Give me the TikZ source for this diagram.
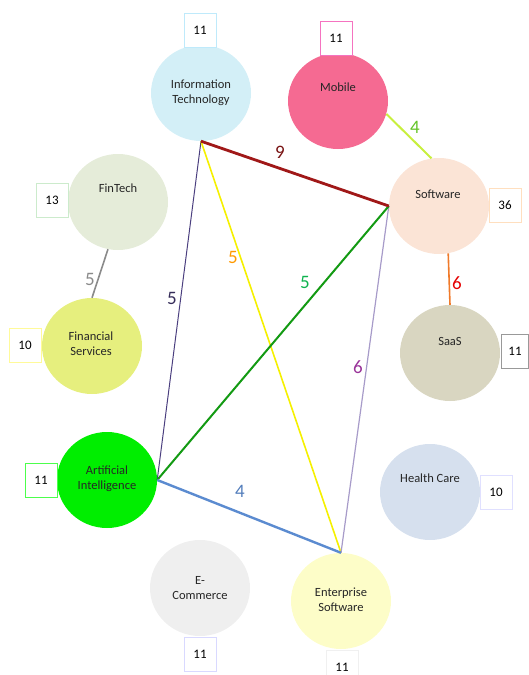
\documentclass[tikz,border=0pt]{standalone}
\usepackage{fontspec}
\setmainfont{Carlito}
\usetikzlibrary{shapes.geometric}
\definecolor{cIT}{HTML}{D3EFF7}
\definecolor{cMob}{HTML}{F56A92}
\definecolor{cSW}{HTML}{FBE4D6}
\definecolor{cSaaS}{HTML}{D9D6C1}
\definecolor{cFT}{HTML}{E5ECD9}
\definecolor{cFS}{HTML}{E6EF7E}
\definecolor{cAI}{HTML}{00EE00}
\definecolor{cEC}{HTML}{EFEFEF}
\definecolor{cES}{HTML}{FDFDC8}
\definecolor{cHC}{HTML}{D6E0EE}
\definecolor{eRed}{HTML}{A01818}
\definecolor{eNavy}{HTML}{4B3F7F}
\definecolor{eYel}{HTML}{F5F000}
\definecolor{eGreen}{HTML}{139A13}
\definecolor{eLav}{HTML}{A79BC9}
\definecolor{eBlue}{HTML}{5B8BD0}
\definecolor{eLime}{HTML}{C8EF3E}
\definecolor{eOr}{HTML}{F07A2A}
\definecolor{eGray}{HTML}{8A8A8A}
\tikzset{
  bubble/.style={ellipse, minimum width=100, minimum height=96, inner sep=0pt, draw=none},
  lbl/.style={font=\fontsize{12.5}{15}\selectfont, align=center, inner sep=0pt, text=black!85},
  numbox/.style={fill=white, minimum width=32, minimum height=34, inner sep=0pt, font=\fontsize{13}{14}\selectfont, line width=0.8pt},
  wt/.style={font=\fontsize{19}{19}\selectfont, inner sep=0pt},
}
\begin{document}
\begin{tikzpicture}[x=1pt,y=-1pt]
\useasboundingbox (0,0) rectangle (529,675);
% bubbles
\node[bubble, fill=cIT]   (it)   at (201,93)  {};
\node[bubble, fill=cMob]  (mob)  at (338,101) {};
\node[bubble, fill=cSW]   (sw)   at (439,206) {};
\node[bubble, fill=cSaaS] (saas) at (450,353) {};
\node[bubble, fill=cFT]   (ft)   at (118,202) {};
\node[bubble, fill=cFS]   (fs)   at (92,346)  {};
\node[bubble, fill=cAI]   (ai)   at (107,480) {};
\node[bubble, fill=cEC]   (ec)   at (200,588) {};
\node[bubble, fill=cES]   (es)   at (341,601) {};
\node[bubble, fill=cHC]   (hc)   at (430,492) {};
% texts
\node[lbl] (it-t)   at (201,93)  {Information\\Technology};
\node[lbl] (mob-t)  at (338,87)  {Mobile};
\node[lbl] (sw-t)   at (438,194) {Software};
\node[lbl] (saas-t) at (450,341) {SaaS};
\node[lbl] (ft-t)   at (118,188) {FinTech};
\node[lbl] (fs-t)   at (91,344)  {Financial\\Services};
\node[lbl] (ai-t)   at (107,479) {Artificial\\Intelligence};
\node[lbl] (ec-t)   at (200,588) {E-\\Commerce};
\node[lbl] (es-t)   at (341,600) {Enterprise\\Software};
\node[lbl] (hc-t)   at (430,478) {Health Care};
% number boxes
\node[numbox, draw=cyan!25]     (it-n)   at (200,30)  {11};
\node[numbox, draw=magenta!55]  (mob-n)  at (336,38)  {11};
\node[numbox, draw=orange!25]   (sw-n)   at (505,205) {36};
\node[numbox, draw=black!40, minimum width=27] (saas-n) at (515,351) {11};
\node[numbox, draw=green!60!black!20] (ft-n) at (52,200) {13};
\node[numbox, draw=yellow!40]   (fs-n)   at (25,345)  {10};
\node[numbox, draw=green!70]    (ai-n)   at (41,480)  {11};
\node[numbox, draw=blue!15]     (ec-n)   at (200,654) {11};
\node[numbox, draw=black!6]     (es-n)   at (342,667) {11};
\node[numbox, draw=blue!12]     (hc-n)   at (496,492) {10};
% edges
\draw[eGray, line width=1.6pt] (ft.258) -- (fs.north);
\draw[eLime, line width=2pt] (mob.345) -- (sw.99);
\draw[eOr, line width=1.6pt] (sw.281) -- (saas.north);
\draw[eNavy, line width=1pt] (it.south) -- (ai.east);
\draw[eYel, line width=1.6pt] (it.south) -- (es.north);
\draw[eLav, line width=1.2pt] (sw.west) -- (es.north);
\draw[eGreen, line width=2pt] (sw.west) -- (ai.east);
\draw[eBlue, line width=2.4pt] (ai.east) -- (es.north);
\draw[eRed, line width=2.8pt] (it.south) -- (sw.west);
% weights
\node[wt, text=eRed!75!black]   (w1) at (280,152) {9};
\node[wt, text=eNavy!70!black]  (w2) at (172,298) {5};
\node[wt, text=orange!80!yellow] (w3) at (233,257) {5};
\node[wt, text=eGreen!75!cyan]  (w4) at (305,282) {5};
\node[wt, text=violet!80]       (w5) at (358,367) {6};
\node[wt, text=eBlue!90!black]  (w6) at (240,491) {4};
\node[wt, text=red!90!black]    (w7) at (457,283) {6};
\node[wt, text=green!45!olive!85] (w8) at (415,127) {4};
\node[wt, text=eGray]           (w9) at (90,279)  {5};
\end{tikzpicture}
\end{document}
